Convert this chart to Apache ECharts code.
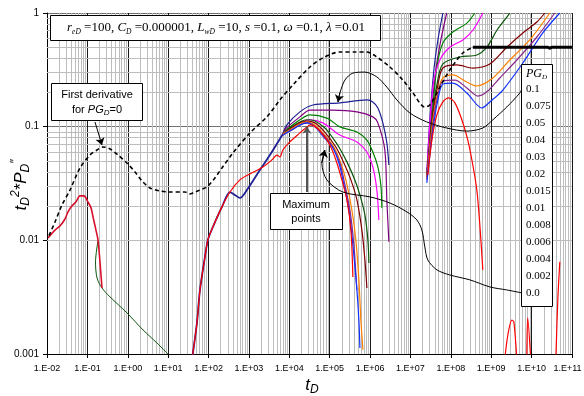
<!DOCTYPE html>
<html><head><meta charset="utf-8">
<script src="https://cdn.jsdelivr.net/npm/echarts@6/dist/echarts.min.js"></script>
<style>html,body{margin:0;padding:0;background:#fff}#c{width:584px;height:396px}</style>
</head><body><div id="c"></div>
<script>
// ---------- tick labels ----------
const xTickLabels = ['1.E-02','1.E-01','1.E+00','1.E+01','1.E+02','1.E+03','1.E+04','1.E+05','1.E+06','1.E+07','1.E+08','1.E+09','1.E+10','1.E+11'];
const yTickLabels = ['0.001','0.01','0.1','1'];
const pgLabels = ['0.1','0.075','0.05','0.04','0.03','0.02','0.015','0.01','0.008','0.006','0.004','0.002','0.0'];

// ---------- first derivative for PG_D = 0 ----------
const firstDerivDashed = [[1.12e-2,1.10e-2],[1.58e-2,1.45e-2],[2.35e-2,2.05e-2],[3.71e-2,2.77e-2],[6.55e-2,4.33e-2],[1.16e-1,5.63e-2],[1.73e-1,6.23e-2],[2.43e-1,6.63e-2],[3.63e-1,6.37e-2],[5.72e-1,5.63e-2],[9.54e-1,4.79e-2],[1.51,4.0e-2],[2.25,3.33e-2],[3.54,2.89e-2],[6.25,2.72e-2],[11.1,2.66e-2],[26,2.66e-2],[34.7,2.56e-2],[41,2.61e-2],[61,2.77e-2],[91,2.95e-2],[144,3.54e-2],[215,4.33e-2],[402,5.87e-2],[1060,8.81e-2],[2790,1.22e-1],[5850,1.72e-1],[1.23e4,2.33e-1],[3.24e4,3.35e-1],[6.78e4,4.02e-1],[1.79e5,4.54e-1],[4.2e5,4.54e-1],[8.35e5,4.54e-1],[1.47e6,4.10e-1],[3.1e6,3.35e-1],[6.49e6,2.57e-1],[1.15e7,1.98e-1],[2.27e7,1.49e-1],[3.02e7,1.55e-1],[5.34e7,2.23e-1],[9.4e7,3.15e-1],[1.98e8,4.45e-1],[3.5e8,5.0e-1]];
const firstDerivLate = [[3.5e8,0.5],[2.52e10,0.5],[2.82e10,0.49],[3.16e10,0.5],[1e11,0.5]];

// ---------- early time (wellbore storage) ----------
const earlyRed = [[1.06e-2,1.05e-2],[1.58e-2,1.23e-2],[2.10e-2,1.34e-2],[2.79e-2,1.54e-2],[3.31e-2,1.78e-2],[4.16e-2,2.01e-2],[5.22e-2,2.18e-2],[6.55e-2,2.46e-2],[8.23e-2,2.46e-2],[1.03e-1,2.18e-2],[1.23e-1,1.93e-2],[1.38e-1,1.61e-2],[1.63e-1,1.23e-2],[1.83e-1,1.01e-2],[2.05e-1,6.46e-3],[2.30e-1,3.81e-3]];
const earlyGreen = [[1.83e-1,9.9e-3],[1.59e-1,6.46e-3],[1.73e-1,4.67e-3],[2.30e-1,3.81e-3],[3.63e-1,3.18e-3],[9.54e-1,2.30e-3],[2.38,1.63e-3],[5.28,1.25e-3],[9.9,1.0e-3]];

// ---------- common rise of all PG_D curves ----------
const commonRise = [[39,9e-4],[51.6,1.88e-3],[61.3,3.66e-3],[81.5,7.14e-3],[96.6,1.01e-2],[128,1.31e-2],[215,1.97e-2],[339,2.66e-2],[450,2.51e-2],[598,2.36e-2],[891,2.77e-2],[1870,4.16e-2],[3310,5.63e-2],[6930,8.63e-2]];

// ---------- middle-time humps ----------
const pg01Mid  = [[8710,1.035e-1],[1.83e4,1.35e-1],[3.84e4,1.55e-1],[1.79e5,1.62e-1],[8.35e5,1.72e-1],[1.17e6,1.65e-1],[1.56e6,1.46e-1],[2.07e6,1.08e-1],[2.6e6,7.2e-2],[2.92e6,4.6e-2]];
const pg075Mid = [[8.0e3,9.54e-2],[1.83e4,1.22e-1],[3.24e4,1.40e-1],[1.2e5,1.40e-1],[4.72e5,1.35e-1],[1.17e6,1.22e-1],[1.56e6,1.08e-1],[2.32e6,6.23e-2],[2.6e6,2.27e-2],[2.92e6,9.7e-3]];
const pg05Mid  = [[7.77e3,9.14e-2],[1.83e4,1.15e-1],[3.24e4,1.27e-1],[8.5e4,1.19e-1],[1.79e5,9.96e-2],[4.72e5,8.99e-2],[8.35e5,7.62e-2],[1.17e6,5.98e-2],[1.56e6,4.42e-2],[1.85e6,3.07e-2],[1.96e6,1.93e-2]];
const pg04Mid  = [[7.77e3,8.99e-2],[1.83e4,1.08e-1],[3.24e4,1.15e-1],[6.78e4,1.08e-1],[1.79e5,8.43e-2],[4.72e5,7.34e-2],[8.35e5,5.98e-2],[1.17e6,4.42e-2],[1.47e6,2.77e-2],[1.65e6,1.51e-2]];
const pg03Mid  = [[6930,8.63e-2],[1.03e4,9.73e-2],[1.83e4,1.10e-1],[2.73e4,1.15e-1],[4.30e4,1.12e-1],[7.6e4,9.73e-2],[1.2e5,7.94e-2],[1.69e5,6.63e-2],[2.67e5,4.9e-2],[4.2e5,3.4e-2],[5.6e5,2.51e-2],[7.45e5,1.67e-2],[8.84e5,1.0e-2],[9.36e5,6.32e-3]];
const pg02Mid  = [[6930,8.63e-2],[1.03e4,9.54e-2],[1.83e4,1.08e-1],[2.73e4,1.12e-1],[4.30e4,1.08e-1],[7.18e4,9.14e-2],[1.42e5,6.63e-2],[2.25e5,4.79e-2],[3.35e5,3.4e-2],[4.72e5,2.27e-2],[6.27e5,1.23e-2],[7.45e5,6.72e-3],[8.35e5,3.81e-3]];
const pg015Mid = [[6930,8.63e-2],[1.03e4,9.35e-2],[1.83e4,1.06e-1],[2.73e4,1.10e-1],[4.30e4,1.035e-1],[6.78e4,8.81e-2],[1.27e5,6.63e-2],[1.89e5,4.79e-2],[2.52e5,3.4e-2],[3.54e5,1.85e-2],[4.45e5,1.0e-2],[5.28e5,4.49e-3],[5.92e5,1.99e-3],[6.64e5,1.09e-3]];
const pg010Mid = [[6930,8.43e-2],[1.03e4,9.14e-2],[1.83e4,1.035e-1],[2.73e4,1.08e-1],[4.30e4,1.01e-1],[6.78e4,8.63e-2],[1.2e5,6.63e-2],[1.79e5,4.79e-2],[2.25e5,3.4e-2],[3.16e5,1.85e-2],[3.98e5,9.1e-3],[4.72e5,3.66e-3]];
const pg008Mid = [[6930,8.43e-2],[1.03e4,9.14e-2],[1.83e4,1.035e-1],[2.73e4,1.08e-1],[4.30e4,9.96e-2],[6.78e4,8.26e-2],[1.2e5,6.5e-2],[1.69e5,4.79e-2],[2.12e5,3.4e-2],[2.99e5,1.85e-2],[3.75e5,9.1e-3],[4.72e5,3.66e-3],[5.28e5,1.99e-3],[5.6e5,1.13e-3]];
const pg00Mid  = [[39,9e-4],[51.6,1.88e-3],[61.3,3.66e-3],[81.5,7.14e-3],[96.6,1.01e-2],[128,1.31e-2],[215,1.97e-2],[339,2.66e-2],[598,3.4e-2],[1060,3.84e-2],[2220,4.42e-2],[3710,5.1e-2],[4930,5.63e-2],[5850,5.41e-2],[6930,6.23e-2],[1.03e4,7.34e-2],[1.83e4,8.81e-2],[2.73e4,9.96e-2],[3.43e4,1.035e-1],[4.82e4,9.73e-2],[7.6e4,8.1e-2],[1.07e5,6.63e-2],[1.51e5,4.79e-2],[2.0e5,3.4e-2],[2.67e5,2.27e-2],[3.35e5,1.23e-2],[3.75e5,4.76e-3]];

// ---------- late-time branches ----------
const pg01Late  = [[2.54e7,3.76e-2],[3.02e7,1.15e-1],[3.8e7,3.15e-1],[4.78e7,5.79e-1],[6.35e7,1.0]];
const pg075Late = [[2.54e7,3.76e-2],[3.2e7,1.15e-1],[4.26e7,3.15e-1],[5.66e7,5.79e-1],[7.9e7,1.0]];
const pg05Late  = [[2.54e7,3.76e-2],[3.39e7,1.15e-1],[4.51e7,3.35e-1],[6.35e7,5.45e-1],[1.12e8,6.8e-1],[2.49e8,8.15e-1],[3.92e8,1.0]];
const pg04Late  = [[2.54e7,3.76e-2],[3.59e7,2.23e-1],[5.34e7,3.86e-1],[9.4e7,5.0e-1],[1.98e8,5.79e-1],[3.5e8,7.05e-1],[6.19e8,1.0]];
const pg03Late  = [[2.54e7,3.68e-2],[3.39e7,1.15e-1],[4.51e7,2.33e-1],[6.35e7,3.56e-1],[1.67e8,4.10e-1],[4.4e8,4.27e-1],[7.77e8,5.0e-1],[1.38e9,7.05e-1],[2.43e9,9.2e-1],[2.89e9,1.0]];
const pg02Late  = [[2.54e7,3.61e-2],[3.59e7,1.27e-1],[4.78e7,2.33e-1],[6.35e7,3.28e-1],[1.41e8,3.49e-1],[3.5e8,3.28e-1],[9.23e8,3.56e-1],[2.43e9,5.0e-1],[6.06e9,6.68e-1],[1.35e10,8.33e-1],[2.12e10,1.0]];
const pg015Late = [[2.54e7,3.53e-2],[3.59e7,1.15e-1],[4.78e7,2.02e-1],[6.35e7,2.68e-1],[1.12e8,2.85e-1],[2.49e8,2.47e-1],[4.4e8,2.28e-1],[1.1e9,2.68e-1],[2.89e9,3.86e-1],[9.0e9,5.79e-1],[2.82e10,1.0]];
const pg010Late = [[2.54e7,3.4e-2],[3.59e7,1.035e-1],[4.78e7,1.9e-1],[6.35e7,2.52e-1],[1.26e8,2.57e-1],[2.49e8,2.19e-1],[4.66e8,1.86e-1],[8.23e8,2.06e-1],[1.63e9,2.68e-1],[4.3e9,3.86e-1],[1.35e10,6.15e-1],[3.75e10,1.0]];
const pg008Late = [[2.54e7,3.2e-2],[3.59e7,9.35e-2],[4.78e7,1.72e-1],[6.35e7,2.37e-1],[1.12e8,2.42e-1],[2.49e8,1.98e-1],[5.85e8,1.46e-1],[9.23e8,1.65e-1],[1.94e9,2.10e-1],[6.06e9,3.63e-1],[1.89e10,6.68e-1],[4.99e10,1.0]];
const pg00Late  = [[2.69e7,3.76e-2],[3.39e7,7.62e-2],[4.51e7,1.27e-1],[6.35e7,1.65e-1],[8.9e7,1.79e-1],[1.26e8,1.62e-1],[1.87e8,1.15e-1],[2.63e8,7.62e-2],[3.5e8,4.6e-2],[4.4e8,2.77e-2],[5.22e8,1.37e-2],[6.19e8,5.5e-3]];
const pg00Bump1 = [[2.17e9,9e-4],[2.58e9,1.47e-3],[3.24e9,1.99e-3],[3.63e9,1.92e-3],[4.3e9,9e-4]];
const pg00Bump2 = [[7.6e9,9e-4],[8.0e9,2.08e-3],[9.5e9,9e-4]];
const pg00Bump3 = [[3.98e10,9e-4],[4.45e10,2.99e-3],[4.99e10,6.46e-3]];

// ---------- annotation connectors ----------
const connector01 = [[6.06e9,2.23e-1],[5.1e9,1.98e-1],[2.43e9,1.49e-1],[1.1e9,1.15e-1],[6.19e8,9.73e-2],[2.49e8,9.14e-2],[7.9e7,9.73e-2],[2.54e7,1.10e-1],[9.66e6,1.32e-1],[4.6e6,1.72e-1],[2.6e6,2.23e-1],[1.47e6,2.74e-1],[7.45e5,3.02e-1],[3.75e5,2.96e-1],[2.38e5,2.57e-1],[1.79e5,1.98e-1],[1.6e5,1.65e-1]];
const connector00 = [[5.72e9,3.45e-3],[2.43e9,3.66e-3],[9.23e8,3.89e-3],[2.96e8,4.49e-3],[9.4e7,4.96e-3],[4.51e7,5.5e-3],[2.69e7,6.72e-3],[2.27e7,8.75e-3],[1.92e7,1.23e-2],[1.44e7,1.51e-2],[8.15e6,1.78e-2],[3.1e6,2.13e-2],[1.0e6,2.41e-2],[2.12e5,2.66e-2],[8.5e4,3.4e-2],[6.4e4,4.79e-2],[7.6e4,6.23e-2]];
const arrowFirstDeriv = [[1.54e-1,1.10e-1],[2.3e-1,6.9e-2]];
const arrowMaxPoints = [[2.73e4,2.66e-2],[2.73e4,9.96e-2]];

// ---------- build ----------
const chart = echarts.init(document.getElementById('c'), null, {renderer:'canvas'});
const minorMant = [2,3,4,5,6,7,8,9];
const gridLines = [];
for (let e = -2; e <= 10; e++) minorMant.forEach(m => gridLines.push({xAxis: m * Math.pow(10, e)}));
for (let e = -3; e <= -1; e++) minorMant.forEach(m => gridLines.push({yAxis: m * Math.pow(10, e)}));

function ln(name, data, color, width, z, dash) {
  return {type:'line', name, data, symbol:'none', showSymbol:false, smooth:0.3, silent:true,
    lineStyle:{color, width, type: dash || 'solid'}, z: z || 3, animation:false};
}
const commonEnd = commonRise[commonRise.length - 1];
const C = {p01:'#1f1f96', p075:'#800080', p05:'#008000', p04:'#ff00ff', p03:'#0b560b', p02:'#800000', p015:'#ff8000', p010:'#8a2a8a', p008:'#1030ff', p00:'#ff0000'};

function arrowPair(a, color, width) {
  return [{coord:a[0], lineStyle:{color, width, type:'solid'}}, {coord:a[1]}];
}

const series = [
  {type:'line', data:[], silent:true, z:1, symbol:'none',
    markLine:{silent:true, z:1, symbol:['none','none'], label:{show:false}, animation:false,
      lineStyle:{color:'#bdbdbd', width:1, type:'solid'}, emphasis:{disabled:true}, data:gridLines}},
  ln('fd', firstDerivDashed, '#000', 1.6, 6, [4,3]),
  ln('fdLate', firstDerivLate, '#000', 3, 6),
  ln('earlyGreen', earlyGreen, '#0b560b', 1, 4),
  ln('earlyRed', earlyRed, '#d8102c', 1.6, 5),
  ln('common', commonRise, C.p01, 1.8, 4),
  ln('0.1', [commonEnd].concat(pg01Mid), C.p01, 1.2, 4),
  ln('0.075', [commonEnd].concat(pg075Mid), C.p075, 1.2, 4),
  ln('0.05', [commonEnd].concat(pg05Mid), C.p05, 1.2, 4),
  ln('0.04', [commonEnd].concat(pg04Mid), C.p04, 1.2, 4),
  ln('0.03', pg03Mid, C.p03, 1.2, 4),
  ln('0.02', pg02Mid, C.p02, 1.2, 4),
  ln('0.015', pg015Mid, C.p015, 1.2, 4),
  ln('0.01', pg010Mid, C.p010, 1.2, 4),
  ln('0.008', pg008Mid, C.p008, 1.2, 4),
  ln('0.0', pg00Mid, C.p00, 1.2, 5),
  ln('0.1L', pg01Late, C.p01, 1.2, 4),
  ln('0.075L', pg075Late, C.p075, 1.2, 4),
  ln('0.05L', pg05Late, C.p05, 1.2, 4),
  ln('0.04L', pg04Late, C.p04, 1.2, 4),
  ln('0.03L', pg03Late, C.p03, 1.2, 4),
  ln('0.02L', pg02Late, C.p02, 1.2, 4),
  ln('0.015L', pg015Late, C.p015, 1.2, 4),
  ln('0.01L', pg010Late, C.p010, 1.2, 4),
  ln('0.008L', pg008Late, C.p008, 1.2, 4),
  ln('0.0L', pg00Late, C.p00, 1.2, 5),
  ln('b1', pg00Bump1, C.p00, 1.2, 5),
  ln('b2', pg00Bump2, C.p00, 1.2, 5),
  ln('b3', pg00Bump3, C.p00, 1.2, 5),
  ln('c01', connector01, '#000', 1, 7),
  ln('c00', connector00, '#000', 1, 7),
  {type:'line', data:[], silent:true, z:8, symbol:'none',
    markLine:{silent:true, z:8, symbol:['none','arrow'], symbolSize:7, label:{show:false}, animation:false,
      emphasis:{disabled:true},
      data:[
        arrowPair(arrowFirstDeriv, '#000', 1),
        arrowPair(arrowMaxPoints, '#555', 2),
        arrowPair(connector01.slice(-2), '#000', 1),
        arrowPair(connector00.slice(-2), '#000', 1)
      ]}}
];

const serif = 'Liberation Serif, Times New Roman, serif';
const sans = 'Liberation Sans, Arial, sans-serif';
const graphics = [];
function box(x, y, w, h) {
  graphics.push({type:'rect', z:100, shape:{x, y, width:w, height:h}, style:{fill:'#fff', stroke:'#000', lineWidth:1}});
}
function txt(x, y, text, rich, align, extra) {
  graphics.push(Object.assign({type:'text', z:101, x, y, style:{text, rich, align: align || 'center', verticalAlign:'middle', fill:'#000'}}, extra || {}));
}
// title box
box(50.5, 15.5, 330, 25);
const tRich = {
  n:{fontFamily:serif, fontSize:13, lineHeight:17, verticalAlign:'middle'},
  i:{fontFamily:serif, fontSize:13, fontStyle:'italic', lineHeight:17, verticalAlign:'middle'},
  s:{fontFamily:serif, fontSize:7.5, fontStyle:'italic', lineHeight:7, verticalAlign:'bottom'}
};
txt(216, 28, '{i|r}{s|eD}{n| =100, }{i|C}{s|D}{n| =0.000001, }{i|L}{s|wD}{n| =10, }{i|s}{n| =0.1, }{i|ω}{n| =0.1, }{i|λ}{n| =0.01}', tRich);
// first derivative box
box(51.5, 83.5, 91, 37);
const sRich = {
  n:{fontFamily:sans, fontSize:11, lineHeight:14, verticalAlign:'middle'},
  i:{fontFamily:sans, fontSize:11, fontStyle:'italic', lineHeight:14, verticalAlign:'middle'},
  s:{fontFamily:sans, fontSize:8, fontStyle:'italic', lineHeight:8, verticalAlign:'bottom'}
};
txt(97, 95, '{n|First derivative}', sRich);
txt(97, 110, '{n|for }{i|PG}{s|D}{n|=0}', sRich);
// maximum points box
box(270.5, 193.5, 72, 36);
txt(306, 205, '{n|Maximum}', sRich);
txt(306, 219, '{n|points}', sRich);
// PG_D legend box
box(521.5, 64.5, 31, 242);
const lRich = {
  n:{fontFamily:serif, fontSize:11, lineHeight:14},
  i:{fontFamily:serif, fontSize:12, fontStyle:'italic', lineHeight:14, verticalAlign:'middle'},
  s:{fontFamily:serif, fontSize:7, fontStyle:'italic', lineHeight:7, verticalAlign:'bottom'}
};
txt(526, 74, '{i|PG}{s|D}', lRich, 'left');
pgLabels.forEach((l, k) => txt(526, 89 + k * 17, '{n|' + l + '}', lRich, 'left'));
// axis titles
const aRich = {
  i:{fontFamily:sans, fontSize:17, fontStyle:'italic', lineHeight:22, verticalAlign:'middle'},
  s:{fontFamily:sans, fontSize:12, fontStyle:'italic', lineHeight:12, verticalAlign:'bottom'},
  p:{fontFamily:sans, fontSize:12, fontStyle:'italic', lineHeight:12, verticalAlign:'top'}
};
txt(312, 385, '{i|t}{s|D}', aRich);
txt(21, 185, '{i|t}{s|D}{p|2}{i|*P}{s|D}{p|″}', aRich, 'center', {rotation: Math.PI / 2});

chart.setOption({
  animation:false,
  backgroundColor:'#fff',
  grid:{left:47, right:12, top:13, bottom:42, containLabel:false, outerBoundsMode:'none', show:false},
  xAxis:{type:'log', logBase:10, min:0.01, max:1e11, interval:1, splitNumber:13,
    axisLine:{show:true, lineStyle:{color:'#000', width:1}},
    axisTick:{show:true, length:4, lineStyle:{color:'#000'}},
    axisLabel:{fontFamily:sans, fontSize:9, color:'#000', margin:10,
      rich:{last:{fontFamily:sans, fontSize:9, color:'#000', padding:[0,9,0,0]}},
      formatter: v => {
        const k = Math.round(Math.log10(v)) + 2;
        return k === xTickLabels.length - 1 ? '{last|' + xTickLabels[k] + '}' : xTickLabels[k];
      }},
    splitLine:{show:true, lineStyle:{color:'#1a1a1a', width:1}},
    minorTick:{show:false}, minorSplitLine:{show:false}},
  yAxis:{type:'log', logBase:10, min:0.001, max:1, interval:1, splitNumber:3,
    axisLine:{show:true, lineStyle:{color:'#000', width:1}},
    axisTick:{show:true, length:4, lineStyle:{color:'#000'}},
    axisLabel:{fontFamily:sans, fontSize:10, color:'#000', margin:8,
      formatter: v => yTickLabels[Math.round(Math.log10(v)) + 3]},
    splitLine:{show:true, lineStyle:{color:'#707070', width:1}},
    minorTick:{show:false}, minorSplitLine:{show:false}},
  series,
  graphic: graphics
});
</script></body></html>
